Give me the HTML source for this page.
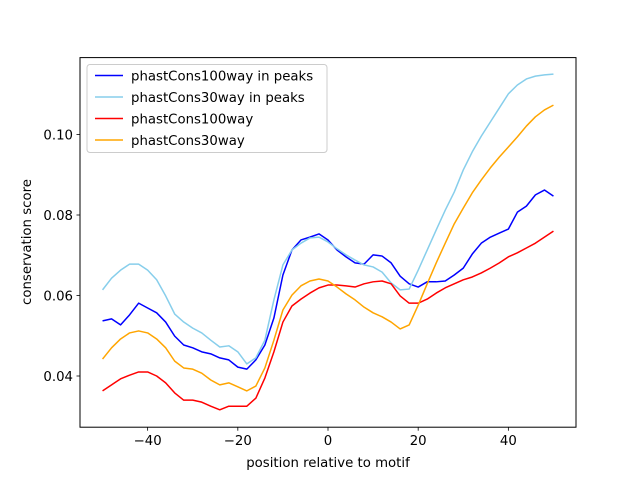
<!DOCTYPE html>
<html><head><meta charset="utf-8"><style>
body{margin:0;background:#fff;}
svg{font-family:"DejaVu Sans","Liberation Sans",sans-serif;}
</style></head><body>
<svg id="chart" width="640" height="480" xmlns="http://www.w3.org/2000/svg">
<rect width="640" height="480" fill="#fff"/>
<g id="plot"></g>
<rect x="80" y="57.6" width="496" height="369.6" fill="none" stroke="#000" stroke-width="1"/>
<g id="ticks"></g>
<text x="328" y="467" font-size="13.3" text-anchor="middle">position relative to motif</text>
<text x="31" y="242" font-size="13.3" text-anchor="middle" transform="rotate(-90 31 242)">conservation score</text>
<g id="legend"></g>
</svg>
<script>
const xs = [];
for (let x = -50; x <= 50; x += 2) xs.push(x);
const seriesNames = ["phastCons100way in peaks","phastCons30way in peaks","phastCons100way","phastCons30way"];
const seriesColors = ["#0000ff","#87ceeb","#ff0000","#ffa500"];
const peaks100 = [0.0537,0.0542,0.0527,0.0552,0.0581,0.0569,0.0557,0.0534,0.0499,0.0477,0.0470,0.0460,0.0455,0.0445,0.0440,0.0422,0.0417,0.0440,0.0477,0.0544,0.0651,0.0713,0.0738,0.0745,0.0753,0.0738,0.0713,0.0696,0.0681,0.0678,0.0701,0.0698,0.0681,0.0648,0.0629,0.0621,0.0634,0.0634,0.0636,0.0651,0.0668,0.0703,0.0730,0.0745,0.0755,0.0765,0.0807,0.0822,0.0850,0.0862,0.0847];
const peaks30 = [0.0614,0.0643,0.0663,0.0678,0.0678,0.0663,0.0639,0.0599,0.0554,0.0534,0.0519,0.0507,0.0489,0.0472,0.0475,0.0460,0.0430,0.0445,0.0489,0.0589,0.0676,0.0713,0.0730,0.0743,0.0745,0.0733,0.0716,0.0701,0.0688,0.0676,0.0671,0.0658,0.0631,0.0614,0.0616,0.0663,0.0713,0.0763,0.0812,0.0857,0.0912,0.0957,0.0996,0.1031,0.1066,0.1101,0.1123,0.1138,0.1145,0.1148,0.1150];
const all100 = [0.0363,0.0378,0.0393,0.0402,0.0410,0.0410,0.0400,0.0383,0.0358,0.0340,0.0340,0.0335,0.0325,0.0316,0.0325,0.0325,0.0325,0.0345,0.0395,0.0460,0.0534,0.0574,0.0591,0.0606,0.0619,0.0626,0.0626,0.0624,0.0621,0.0629,0.0634,0.0636,0.0629,0.0599,0.0581,0.0581,0.0591,0.0606,0.0619,0.0629,0.0639,0.0646,0.0656,0.0668,0.0681,0.0696,0.0706,0.0718,0.0730,0.0745,0.0760];
const all30 = [0.0442,0.0470,0.0492,0.0507,0.0512,0.0507,0.0492,0.0470,0.0437,0.0420,0.0417,0.0407,0.0390,0.0378,0.0383,0.0373,0.0363,0.0375,0.0420,0.0489,0.0564,0.0601,0.0624,0.0636,0.0641,0.0636,0.0621,0.0604,0.0589,0.0571,0.0557,0.0547,0.0534,0.0517,0.0527,0.0576,0.0629,0.0681,0.0730,0.0778,0.0817,0.0855,0.0887,0.0917,0.0944,0.0969,0.0994,0.1021,0.1044,0.1061,0.1073];
const xTicks = [-40,-20,0,20,40];
const yTicks = [0.04,0.06,0.08,0.10];
const yTickLabels = ["0.04","0.06","0.08","0.10"];

const NS = "http://www.w3.org/2000/svg";
function sx(x){ return 80 + (x + 55) / 110 * 496; }
function sy(v){ return 376 - (v - 0.04) * 4025; }
function mk(tag, attrs, parent){ const e = document.createElementNS(NS, tag); for (const k in attrs) e.setAttribute(k, attrs[k]); parent.appendChild(e); return e; }

const plot = document.getElementById('plot');
const allSeries = [peaks100, peaks30, all100, all30];
const seriesKeys = ['peaks100','peaks30','all100','all30'];
allSeries.forEach((s, i) => {
  const d = s.map((v, j) => (j ? 'L' : 'M') + sx(xs[j]).toFixed(2) + ',' + sy(v).toFixed(2)).join(' ');
  const p = mk('path', {d: d, fill: 'none', stroke: seriesColors[i], 'stroke-width': 1.5, 'stroke-linejoin': 'round'}, plot);
  
  
});

const ticks = document.getElementById('ticks');
xTicks.forEach(t => {
  const l = mk('line', {x1: sx(t), x2: sx(t), y1: 427.2, y2: 430.7, stroke: '#000', 'stroke-width': 0.8}, ticks);
  
  
  const tx = mk('text', {x: sx(t), y: 445, 'font-size': 13.3, 'text-anchor': 'middle'}, ticks);
  tx.textContent = (t < 0 ? '\u2212' + Math.abs(t) : t);
  
  
});
yTicks.forEach((t, i) => {
  const l = mk('line', {x1: 76.5, x2: 80, y1: sy(t), y2: sy(t), stroke: '#000', 'stroke-width': 0.8}, ticks);
  
  
  const tx = mk('text', {x: 73, y: sy(t) + 4.8, 'font-size': 13.3, 'text-anchor': 'end'}, ticks);
  tx.textContent = yTickLabels[i];
  
  
});

const lg = document.getElementById('legend');
const box = mk('rect', {x: 87, y: 64.5, width: 240, height: 88, rx: 3, fill: '#fff', 'fill-opacity': 0.8, stroke: '#ccc', 'stroke-width': 1}, lg);


seriesNames.forEach((n, i) => {
  const y = 75.5 + i * 21.5;
  const l = mk('line', {x1: 95, x2: 123, y1: y, y2: y, stroke: seriesColors[i], 'stroke-width': 1.5}, lg);
  
  
  const t = mk('text', {x: 131, y: y + 4.8, 'font-size': 13.3}, lg);
  t.textContent = n;
  
  
});
</script>
</body></html>
